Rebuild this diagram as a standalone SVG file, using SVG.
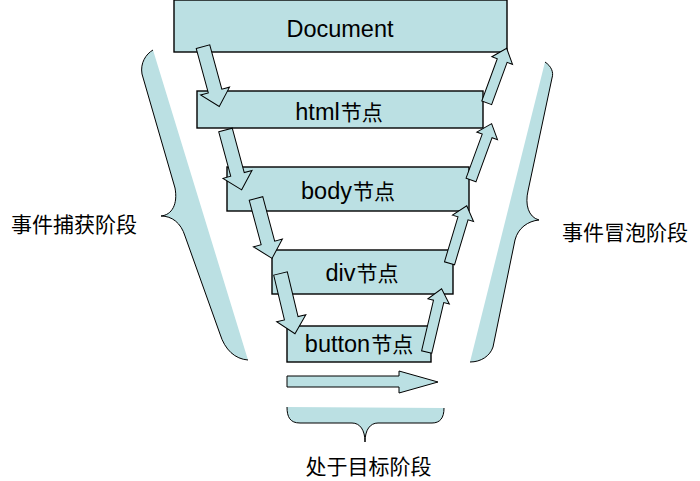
<svg xmlns="http://www.w3.org/2000/svg" width="700" height="481" viewBox="0 0 700 481">
<style>
.box{fill:#BBE0E3;stroke:#000;stroke-width:1.4}
.fillonly{fill:#BBE0E3;stroke:none}
.brace{fill:none;stroke:#000;stroke-width:1}
.arr{fill:#BBE0E3;stroke:#000;stroke-width:1;stroke-linejoin:miter}
.lbl{font-family:"Liberation Sans","Noto Sans CJK SC",sans-serif;font-size:23.5px;fill:#000;text-anchor:middle}
.cjk{font-family:"Noto Sans CJK SC",sans-serif;font-size:21px}
.side{font-family:"Noto Sans CJK SC",sans-serif;font-size:21px;fill:#000;text-anchor:middle}
</style>
<defs>
<path id="down" d="M-7,0 L7,0 L7,46 L15,46 L0,62 L-15,46 L-7,46 Z"/>
</defs>

<g id="brace-capture">
<path class="fillonly" d="M153,50 C146,54 140,63 142,74 L175,188 C178,204 172,215 161,216 C172,216 181,223 185,236 L220,334 C225,350 235,359 248,360 Z"/>
<path class="brace" d="M153,50 C146,54 140,63 142,74 L175,188 C178,204 172,215 161,216 C172,216 181,223 185,236 L220,334 C225,350 235,359 248,360"/>
</g>
<g id="brace-bubble">
<path class="fillonly" d="M545,62 C551,66 554,72 552,78 L528,191 C525,204 528,217 539,220 C528,221 518,228 515,240 L493,347 C490,356 481,362 470,362 Z"/>
<path class="brace" d="M545,62 C551,66 554,72 552,78 L528,191 C525,204 528,217 539,220 C528,221 518,228 515,240 L493,347 C490,356 481,362 470,362"/>
</g>
<g id="brace-target">
<path class="fillonly" d="M287,407 C287,417 290,423 300,423 L352,423 C360,423 365,430 365,442 C365,430 370,423 378,423 L432,423 C440,423 444,418 444,408 Z"/>
<path class="brace" d="M287,407 C287,417 290,423 300,423 L352,423 C360,423 365,430 365,442 C365,430 370,423 378,423 L432,423 C440,423 444,418 444,408"/>
</g>

<g id="node-document">
<rect class="box" x="174" y="0" width="333" height="52"/>
<text class="lbl" x="340" y="36.5">Document</text>
</g>
<g id="node-html">
<rect class="box" x="197" y="91" width="286" height="37"/>
<text class="lbl" x="339" y="120">html<tspan class="cjk" dx="1">节点</tspan></text>
</g>
<g id="node-body">
<rect class="box" x="227" y="167" width="242" height="44"/>
<text class="lbl" x="348" y="199">body<tspan class="cjk" dx="1">节点</tspan></text>
</g>
<g id="node-div">
<rect class="box" x="272" y="250" width="181" height="44"/>
<text class="lbl" x="362" y="281">div<tspan class="cjk" dx="1">节点</tspan></text>
</g>
<g id="node-button">
<rect class="box" x="287" y="326" width="144" height="36"/>
<text class="lbl" x="359" y="352">button<tspan class="cjk" dx="1">节点</tspan></text>
</g>

<g id="connectors">
<use href="#down" class="arr" transform="translate(203,46.7) rotate(-15.2)"/>
<use href="#down" class="arr" transform="translate(225.5,130) rotate(-15.1)"/>
<use href="#down" class="arr" transform="translate(256,198.5) rotate(-15)"/>
<use href="#down" class="arr" transform="translate(280.5,273.5) rotate(-13.5)"/>
<path class="arr" transform="translate(486.7,102.8) rotate(-159.85)" d="M-5.25,0 L5.25,0 L5.25,45 L11,45 L0,58 L-11,45 L-5.25,45 Z"/>
<path class="arr" transform="translate(471,180) rotate(-159.9)" d="M-5.25,0 L5.25,0 L5.25,47 L11,47 L0,60 L-11,47 L-5.25,47 Z"/>
<path class="arr" transform="translate(449.5,263.3) rotate(-163.3)" d="M-5.25,0 L5.25,0 L5.25,47 L11,47 L0,60 L-11,47 L-5.25,47 Z"/>
<path class="arr" transform="translate(426.7,352) rotate(-166.75)" d="M-5.25,0 L5.25,0 L5.25,52 L11,52 L0,65 L-11,52 L-5.25,52 Z"/>
<path class="arr" d="M287,376 L399,376 L399,371 L438,382 L399,393 L399,387 L287,387 Z"/>
</g>

<text class="side" x="74" y="231.5">事件捕获阶段</text>
<text class="side" x="625" y="239.5">事件冒泡阶段</text>
<text class="side" x="368.5" y="473.5">处于目标阶段</text>
</svg>
